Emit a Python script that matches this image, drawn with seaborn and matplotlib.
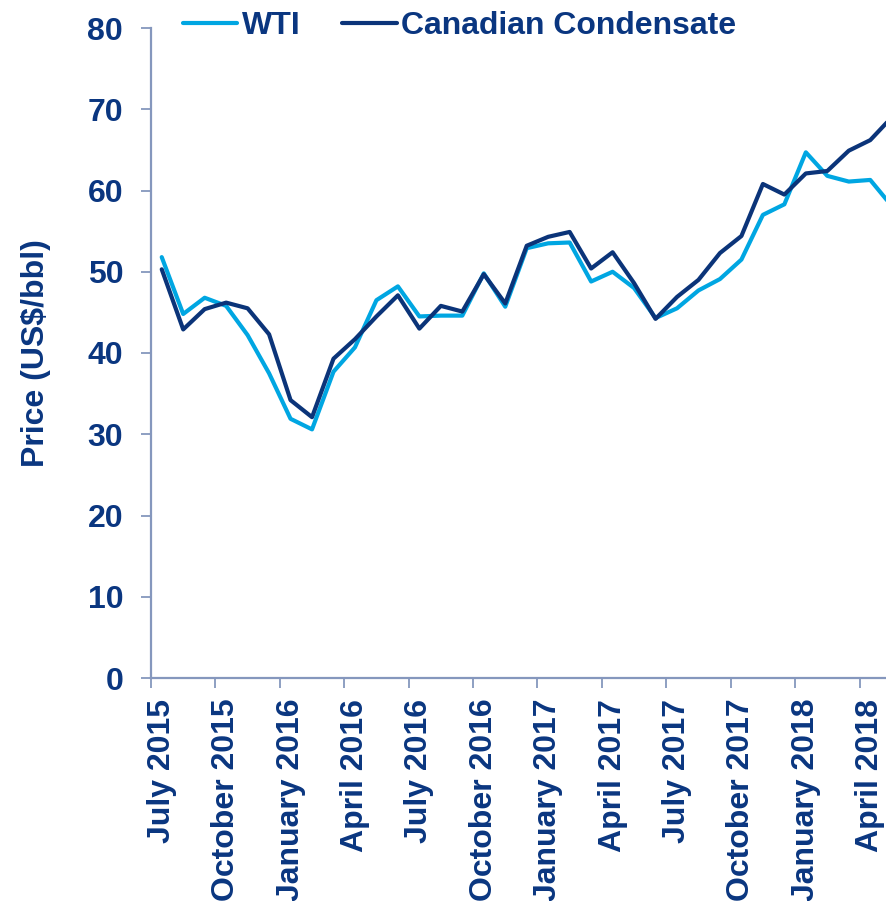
import numpy as np
import pandas as pd
import matplotlib
matplotlib.use("Agg")
import matplotlib.pyplot as plt
import seaborn as sns

# 월별 가격 (US$/bbl), 2015년 7월부터
wti = [51.8, 44.8, 46.8, 45.8, 42.2, 37.5, 31.9, 30.6, 37.7, 40.7, 46.5, 48.2,
       44.5, 44.6, 44.6, 49.8, 45.7, 52.9, 53.5, 53.6, 48.8, 50.0, 48.0, 44.3,
       45.5, 47.7, 49.1, 51.5, 57.0, 58.3, 64.7, 61.8, 61.1, 61.3, 58.1]
condensate = [50.3, 42.9, 45.4, 46.2, 45.5, 42.3, 34.2, 32.1, 39.3, 41.7, 44.5, 47.1,
              43.0, 45.8, 45.1, 49.7, 46.1, 53.2, 54.3, 54.9, 50.4, 52.4, 48.6, 44.2,
              46.9, 49.0, 52.3, 54.4, 60.8, 59.5, 62.1, 62.4, 64.9, 66.2, 69.0]
months = pd.date_range("2015-07-01", periods=len(wti), freq="MS").strftime("%B %Y")
tick_labels = ["July 2015", "October 2015", "January 2016", "April 2016",
               "July 2016", "October 2016", "January 2017", "April 2017",
               "July 2017", "October 2017", "January 2018", "April 2018"]
y_ticks = [0, 10, 20, 30, 40, 50, 60, 70, 80]

navy = "#0a3680"
light = "#00a6e2"
dark = "#0b3479"
axis_col = "#8597bd"
fs = 23

# 데이터 프레임 (긴 형식)
pos = np.arange(len(months)) + 0.5
df = pd.DataFrame({
    "month": list(months) * 2,
    "pos": list(pos) * 2,
    "price": wti + condensate,
    "series": ["WTI"] * len(wti) + ["Canadian Condensate"] * len(condensate),
})

sns.set_style("white")
plt.rcParams["font.family"] = ["Liberation Sans", "DejaVu Sans"]
plt.rcParams["font.weight"] = "bold"

fig = plt.figure(figsize=(8.87, 9.01), dpi=100)
ax = fig.add_axes([151 / 887, (901 - 678) / 901, (887 - 151) / 887, 650 / 901])

sns.lineplot(data=df, x="pos", y="price", hue="series",
             palette={"WTI": light, "Canadian Condensate": dark},
             linewidth=3.0, ax=ax, legend=False, sort=True)

ax.set_xlim(0, (887 - 151) / 21.47)
ax.set_ylim(0, 80)

# 눈금: 분기 경계에 눈금, 월 중앙에 라벨
ax.set_xticks(np.arange(0, len(months), 3))
ax.set_xticklabels([])
ax.set_xticks(np.arange(0, len(months), 3) + 0.5, minor=True)
ax.set_xticklabels(tick_labels, minor=True, rotation=90, fontsize=fs,
                   fontweight="bold", color=navy)
ax.tick_params(axis="x", which="major", direction="out", length=7, width=1.3,
               color=axis_col, bottom=True)
ax.tick_params(axis="x", which="minor", length=0, pad=15)

ax.set_yticks(y_ticks)
ax.set_yticklabels([str(v) for v in y_ticks], fontsize=fs, fontweight="bold", color=navy)
ax.tick_params(axis="y", direction="out", length=7, width=1.3, color=axis_col,
               left=True, pad=13)

ax.set_xlabel("")
ax.set_ylabel("Price (US$/bbl)", fontsize=fs, fontweight="bold", color=navy)
ax.yaxis.set_label_coords(-0.136, 0.5)

for side in ["top", "right"]:
    ax.spines[side].set_visible(False)
for side in ["left", "bottom"]:
    ax.spines[side].set_color(axis_col)
    ax.spines[side].set_linewidth(1.6)

# 범례
handles = [plt.Line2D([], [], color=light, lw=3.0),
           plt.Line2D([], [], color=dark, lw=3.0)]
fig.legend(handles, ["WTI", "Canadian Condensate"], loc="center left",
           bbox_to_anchor=(183 / 887, 1 - 25.7 / 901), ncol=2, frameon=False,
           handlelength=1.7, handletextpad=0.15, columnspacing=1.3,
           borderpad=0, borderaxespad=0, labelcolor=navy,
           prop={"size": fs, "weight": "bold"})

fig.savefig("out.png", dpi=100)
plt.close(fig)
